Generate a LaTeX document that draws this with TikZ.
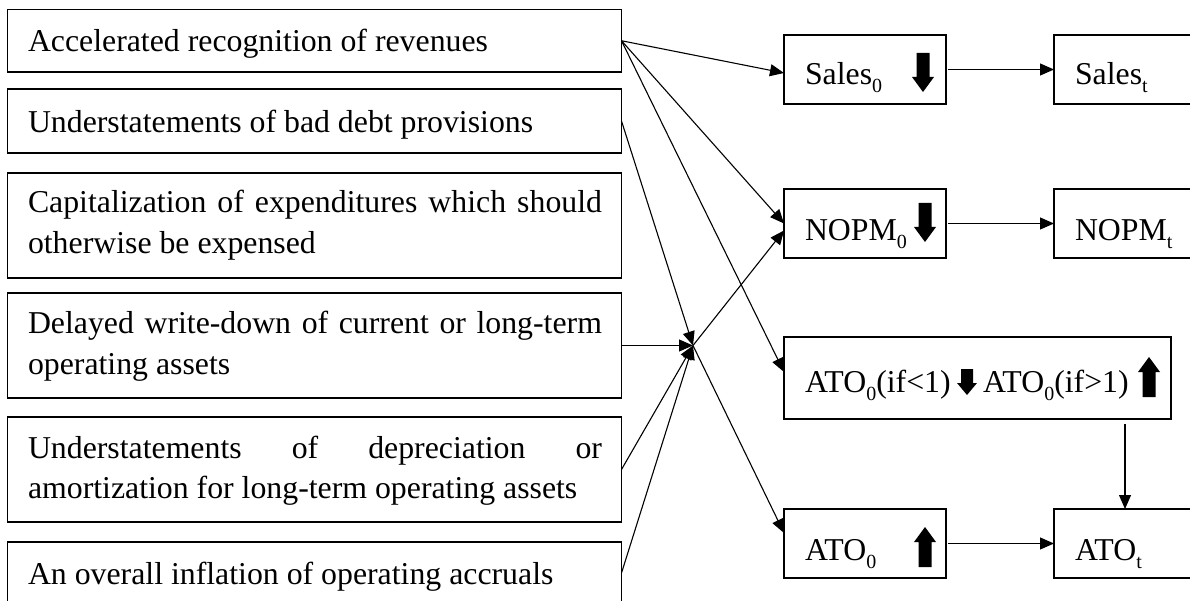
\documentclass[tikz,border=0pt]{standalone}
\usepackage{fontspec}
\setmainfont{Liberation Serif}
\usetikzlibrary{arrows.meta}
\newcommand\sbs[1]{\raisebox{-8pt}{\fontsize{20}{20}\selectfont #1}}
\newcommand\jline[1]{\makebox[574pt][s]{#1}}
\newcommand\dnarr[3]{\fill (#1-6.5,#2) -- (#1+6.5,#2) -- (#1+6.5,#3-15) -- (#1+11,#3-15) -- (#1,#3) -- (#1-11,#3-15) -- (#1-6.5,#3-15) -- cycle;}
\newcommand\uparr[3]{\fill (#1-6.5,#3) -- (#1+6.5,#3) -- (#1+6.5,#2+15) -- (#1+11,#2+15) -- (#1,#2) -- (#1-11,#2+15) -- (#1-6.5,#2+15) -- cycle;}
\begin{document}
\begin{tikzpicture}[x=1pt,y=-1pt,
  box/.style={draw, line width=1.8pt, outer sep=0pt, inner sep=0pt},
  txt/.style={inner sep=0pt, outer sep=0pt, anchor=base west, font=\fontsize{31.8}{40}\selectfont},
  conn/.style={line width=1.1pt, -{Triangle[length=14pt,width=12pt]}}]
\path[use as bounding box] (0,0) rectangle (1190,601);
\clip (0,0) rectangle (1190,601);
% left boxes
\node[box, minimum width=614pt, minimum height=62.5pt] (b1) at (314.5,40.75) {};
\node[box, minimum width=614pt, minimum height=64pt] (b2) at (314.5,121) {};
\node[box, minimum width=614pt, minimum height=105pt] (b3) at (314.5,225.5) {};
\node[box, minimum width=614pt, minimum height=105pt] (b4) at (314.5,345.5) {};
\node[box, minimum width=614pt, minimum height=105pt] (b5) at (314.5,469.5) {};
\node[box, minimum width=614pt, minimum height=62pt] (b6) at (314.5,573) {};
% left texts
\node[txt] (t1) at (28,52) {Accelerated recognition of revenues};
\node[txt] (t2) at (28,132.5) {Understatements of bad debt provisions};
\node[txt] (t3a) at (28,213) {\jline{Capitalization of expenditures which should}};
\node[txt] (t3b) at (28,253.5) {otherwise be expensed};
\node[txt] (t4a) at (28,334) {\jline{Delayed write-down of current or long-term}};
\node[txt] (t4b) at (28,374.5) {operating assets};
\node[txt] (t5a) at (28,458) {\jline{Understatements of depreciation or}};
\node[txt] (t5b) at (28,498.5) {amortization for long-term operating assets};
\node[txt] (t6) at (28,584.5) {An overall inflation of operating accruals};
% right boxes
\node[box, minimum width=162pt, minimum height=69pt] (s0) at (865,69.5) {};
\node[box, minimum width=166pt, minimum height=69pt] (st) at (1137,69.5) {};
\node[box, minimum width=162pt, minimum height=69pt] (n0) at (865,223.5) {};
\node[box, minimum width=166pt, minimum height=69pt] (nt) at (1137,223.5) {};
\node[box, minimum width=387pt, minimum height=82pt] (a1) at (977.5,378) {};
\node[box, minimum width=162pt, minimum height=69pt] (a0) at (865,543.5) {};
\node[box, minimum width=166pt, minimum height=69pt] (at) at (1137,543.5) {};
% right texts
\node[txt] (s0t) at (805,85) {Sales\sbs{0}};
\node[txt] (stt) at (1075,85) {Sales\sbs{t}};
\node[txt] (n0t) at (805,240.5) {NOPM\sbs{0}};
\node[txt] (ntt) at (1075,240.5) {NOPM\sbs{t}};
\node[txt] (a1t) at (805,392) {ATO\sbs{0}(if<1)};
\node[txt] (a1u) at (983,392) {ATO\sbs{0}(if>1)};
\node[txt] (a0t) at (805,560) {ATO\sbs{0}};
\node[txt] (att) at (1075,560) {ATO\sbs{t}};
% thick arrows
\dnarr{923}{53}{92}
\dnarr{925}{203}{242}
\fill (961,369) -- (973,369) -- (973,383) -- (977,383) -- (967,395) -- (957,383) -- (961,383) -- cycle;
\uparr{1149}{357}{397}
\uparr{925}{527}{567}
% convergence point
\coordinate (C) at (693,345.5);
\coordinate (ax) at (1125,0);
% connectors
\draw[conn] (b1.east) -- ([yshift=-3.5pt]s0.west);
\draw[conn] (b1.east) -- (n0.west);
\draw[conn] (b1.east) -- ([yshift=6pt]a1.west);
\draw[conn] (b2.east) -- (C);
\draw[conn] (b4.east) -- (C);
\draw[conn] (b5.east) -- (C);
\draw[conn] (b6.east) -- (C);
\draw[conn] (C) -- ([yshift=-7pt]n0.west);
\draw[conn] (C) -- ([yshift=10.5pt]a0.west);
\draw[conn] ([xshift=2pt]s0.east) -- (st.west);
\draw[conn] ([xshift=2pt]n0.east) -- (nt.west);
\draw[conn] ([xshift=2pt]a0.east) -- (at.west);
\draw[conn] ([yshift=-5pt]a1.south -| ax) -- (at.north -| ax);
\end{tikzpicture}
\end{document}
